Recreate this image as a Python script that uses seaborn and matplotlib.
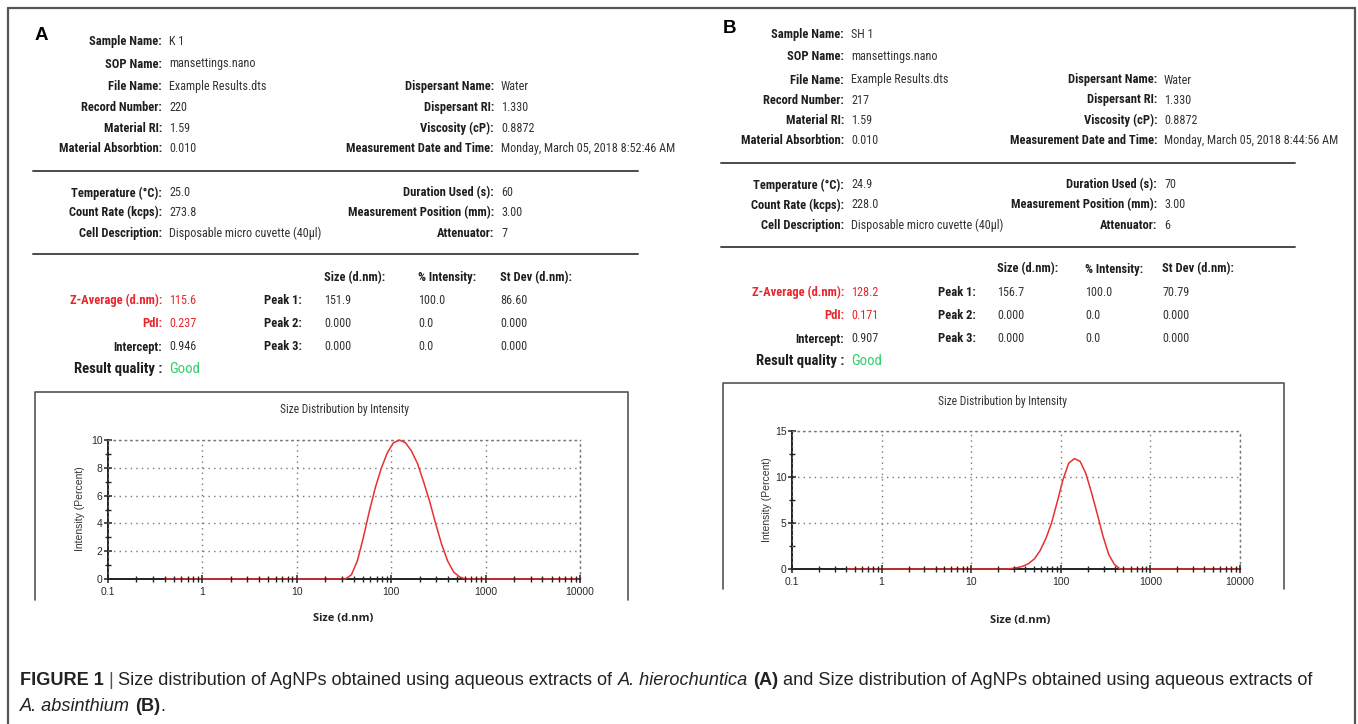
import seaborn as sns
import matplotlib.pyplot as plt
from matplotlib.ticker import FixedLocator, NullFormatter, MultipleLocator

W, H = 1358, 724

# size distribution by intensity (size in d.nm, intensity in %)
sizes_a = [0.4, 32.67, 37.84, 43.82, 50.75, 58.77, 68.06, 78.82, 91.28, 105.7, 122.4, 141.8,
           164.2, 190.1, 220.2, 255.0, 295.3, 342.0, 396.1, 458.7, 531.2, 615.1, 712.4, 10000]
intensity_a = [0, 0, 0.3, 1.3, 3.0, 4.9, 6.6, 8.0, 9.1, 9.8, 10.0, 9.8,
               9.2, 8.3, 7.0, 5.6, 4.0, 2.5, 1.3, 0.5, 0.15, 0, 0, 0]

sizes_b = [0.4, 24.36, 28.21, 32.67, 37.84, 43.82, 50.75, 58.77, 68.06, 78.82, 91.28, 105.7,
           122.4, 141.8, 164.2, 190.1, 220.2, 255.0, 295.3, 342.0, 396.1, 458.7, 10000]
intensity_b = [0, 0, 0.05, 0.15, 0.3, 0.6, 1.1, 2.0, 3.3, 5.0, 7.3, 9.7,
               11.5, 12.0, 11.7, 10.4, 8.3, 6.0, 3.6, 1.6, 0.5, 0, 0]

x_ticks = [0.1, 1, 10, 100, 1000, 10000]
x_ticklabels = ["0.1", "1", "10", "100", "1000", "10000"]

# report text, panel A
a_info = [("Sample Name:", "K 1"), ("SOP Name:", "mansettings.nano"),
          ("File Name:", "Example Results.dts"), ("Record Number:", "220"),
          ("Material RI:", "1.59"), ("Material Absorbtion:", "0.010")]
a_disp = [("Dispersant Name:", "Water"), ("Dispersant RI:", "1.330"), ("Viscosity (cP):", "0.8872"),
          ("Measurement Date and Time:", "Monday, March 05, 2018 8:52:46 AM")]
a_cond = [("Temperature (°C):", "25.0"), ("Count Rate (kcps):", "273.8"),
          ("Cell Description:", "Disposable micro cuvette (40µl)")]
a_meas = [("Duration Used (s):", "60"), ("Measurement Position (mm):", "3.00"), ("Attenuator:", "7")]
a_summary = [("Z-Average (d.nm):", "115.6"), ("PdI:", "0.237"), ("Intercept:", "0.946")]
a_peaks = [("Peak 1:", "151.9", "100.0", "86.60"), ("Peak 2:", "0.000", "0.0", "0.000"),
           ("Peak 3:", "0.000", "0.0", "0.000")]

# report text, panel B
b_info = [("Sample Name:", "SH 1"), ("SOP Name:", "mansettings.nano"),
          ("File Name:", "Example Results.dts"), ("Record Number:", "217"),
          ("Material RI:", "1.59"), ("Material Absorbtion:", "0.010")]
b_disp = [("Dispersant Name:", "Water"), ("Dispersant RI:", "1.330"), ("Viscosity (cP):", "0.8872"),
          ("Measurement Date and Time:", "Monday, March 05, 2018 8:44:56 AM")]
b_cond = [("Temperature (°C):", "24.9"), ("Count Rate (kcps):", "228.0"),
          ("Cell Description:", "Disposable micro cuvette (40µl)")]
b_meas = [("Duration Used (s):", "70"), ("Measurement Position (mm):", "3.00"), ("Attenuator:", "6")]
b_summary = [("Z-Average (d.nm):", "128.2"), ("PdI:", "0.171"), ("Intercept:", "0.907")]
b_peaks = [("Peak 1:", "156.7", "100.0", "70.79"), ("Peak 2:", "0.000", "0.0", "0.000"),
           ("Peak 3:", "0.000", "0.0", "0.000")]

peak_headers = ["Size (d.nm):", "% Intensity:", "St Dev (d.nm):"]

caption_1 = [("FIGURE 1", "bold", "normal"), (" | ", "normal", "normal"),
             ("Size distribution of AgNPs obtained using aqueous extracts of ", "normal", "normal"),
             ("A. hierochuntica", "normal", "italic"), (" ", "normal", "normal"),
             ("(A)", "bold", "normal"),
             (" and Size distribution of AgNPs obtained using aqueous extracts of", "normal", "normal")]
caption_2 = [("A. absinthium", "normal", "italic"), (" ", "normal", "normal"),
             ("(B)", "bold", "normal"), (".", "normal", "normal")]

sns.set_style("white")
plt.rcParams["font.family"] = ["Liberation Sans", "DejaVu Sans"]
NARROW = ["Roboto Condensed", "Liberation Sans Narrow", "Roboto", "DejaVu Sans"]
PLAIN = ["Liberation Sans", "DejaVu Sans"]
TS = 9.0  # report label size
VS = 8.7  # report value size

RED = "#e8262b"
GREEN = "#2fcf6a"
INK = "#1e1e1e"
VAL = "#333333"

fig = plt.figure(figsize=(W / 100, H / 100), dpi=100)

bg = fig.add_axes([0, 0, 1, 1])
bg.set_xlim(0, W)
bg.set_ylim(H, 0)
bg.axis("off")

# outer frame
bg.plot([8, 1355], [8, 8], color="#555555", lw=1.6)
bg.plot([8, 8], [8, H], color="#555555", lw=1.6)
bg.plot([1355, 1355], [8, H], color="#555555", lw=1.6)


def px_axes(x0, y0, x1, y1):
    return fig.add_axes([x0 / W, 1 - y1 / H, (x1 - x0) / W, (y1 - y0) / H])


def pair(x_edge, y, label, value, color=INK, vcolor=VAL, size=TS, vsize=VS):
    bg.text(x_edge, y, label, ha="right", va="center", fontsize=size, fontweight="bold",
            color=color, family=NARROW)
    bg.text(x_edge + 7, y, value, ha="left", va="center", fontsize=vsize, color=vcolor, family=NARROW)


def panel(letter, lx, info, disp, cond, meas, summary, peaks, lay):
    bg.text(lx, lay["top"][0] - 6, letter, fontsize=13.5, fontweight="bold", ha="left", va="center",
            color="black", family=PLAIN)
    for (lab, val), y in zip(info, lay["top"]):
        pair(lay["edge"], y, lab, val)
    for (lab, val), y in zip(disp, lay["top"][2:]):
        pair(lay["redge"], y, lab, val)
    for (lab, val), y in zip(cond, lay["cond"]):
        pair(lay["edge"], y, lab, val)
    for (lab, val), y in zip(meas, lay["cond"]):
        pair(lay["redge"], y, lab, val)
    for y in lay["seps"]:
        bg.plot(lay["sepx"], [y, y], color="#4a4a4a", lw=1.4)
    for head, x in zip(peak_headers, lay["cols"]):
        bg.text(x, lay["head"], head, ha="left", va="center", fontsize=TS, fontweight="bold",
                color=INK, family=NARROW)
    for i, ((lab, val), y) in enumerate(zip(summary, lay["summ"])):
        c = RED if i < 2 else INK
        v = RED if i < 2 else VAL
        pair(lay["edge"], y, lab, val, color=c, vcolor=v)
        row = peaks[i]
        bg.text(lay["pedge"], y, row[0], ha="right", va="center", fontsize=TS, fontweight="bold",
                color=INK, family=NARROW)
        for txt, x in zip(row[1:], lay["cols"]):
            bg.text(x, y, txt, ha="left", va="center", fontsize=VS, color=VAL, family=NARROW)
    pair(lay["edge"], lay["result"], "Result quality :", "Good", vcolor=GREEN,
         size=TS + 1.6, vsize=TS + 1.6)


lay_a = dict(top=[41.7, 64, 86.7, 107.7, 128.3, 148.3], cond=[193, 212.7, 233.3],
             seps=[171, 254], sepx=[33, 638], head=278, summ=[300.7, 323.3, 347], result=369.3,
             edge=162, redge=494, pedge=302, cols=[324, 418, 500])
lay_b = dict(top=[34.3, 56.7, 80, 100, 120.7, 140.7], cond=[185, 205, 225.7],
             seps=[163.3, 246.7], sepx=[721, 1295], head=269, summ=[292.7, 315.3, 339], result=360.7,
             edge=844, redge=1157, pedge=976, cols=[997, 1085, 1162])

panel("A", 35, a_info, a_disp, a_cond, a_meas, a_summary, a_peaks, lay_a)
panel("B", 723, b_info, b_disp, b_cond, b_meas, b_summary, b_peaks, lay_b)

# graph frames (open at the bottom)
for x0, x1, y0, y1 in [(35, 628, 392, 600), (723, 1284, 383, 589)]:
    bg.plot([x0, x0, x1, x1], [y1, y0, y0, y1], color="#555555", lw=1.2)


def dist_plot(box, sizes, inten, ymax, ystep, yminor, title_xy, xlab_xy, ylab_xy):
    ax = px_axes(*box)
    sns.lineplot(x=sizes, y=inten, ax=ax, color="#e8302f", lw=1.1, zorder=2.6)
    for ln in ax.lines:
        ln.set_clip_on(False)
    ax.set_xscale("log")
    ax.set_xlim(0.1, 10000)
    ax.set_ylim(0, ymax)
    ax.xaxis.set_major_locator(FixedLocator(x_ticks))
    ax.set_xticklabels(x_ticklabels)
    ax.xaxis.set_minor_locator(FixedLocator([m * d for d in x_ticks[:-1] for m in range(2, 10)]))
    ax.xaxis.set_minor_formatter(NullFormatter())
    ax.yaxis.set_major_locator(MultipleLocator(ystep))
    ax.yaxis.set_minor_locator(MultipleLocator(yminor))
    ax.tick_params(which="both", bottom=True, left=True, top=False, right=False)
    ax.tick_params(which="major", direction="inout", length=6, width=1.1, color="#222222",
                   labelsize=7.5, labelcolor="#2a2a2a")
    ax.tick_params(axis="x", which="major", pad=3)
    ax.tick_params(axis="y", which="major", pad=1)
    ax.tick_params(which="minor", direction="inout", length=4, width=1.0, color="#222222")
    ax.xaxis.set_zorder(3)
    ax.grid(True, which="major", linestyle=(0, (1, 3)), color="#777777", lw=1)
    ax.grid(False, which="minor")
    for side in ["top", "right"]:
        ax.spines[side].set_linestyle((0, (1, 3)))
        ax.spines[side].set_color("#777777")
        ax.spines[side].set_linewidth(1)
    for side in ["left", "bottom"]:
        ax.spines[side].set_color("#222222")
        ax.spines[side].set_linewidth(1.4)
    ax.patch.set_alpha(0)
    ax.set_xlabel("")
    ax.set_ylabel("")
    bg.text(*title_xy, "Size Distribution by Intensity", ha="center", va="center", fontsize=8.3,
            color="#333333", family=NARROW)
    bg.text(*xlab_xy, "Size (d.nm)", ha="center", va="center", fontsize=8, fontweight="bold",
            color="#222222", family=["Open Sans", "DejaVu Sans"])
    bg.text(*ylab_xy, "Intensity (Percent)", ha="center", va="center", rotation=90, fontsize=7.5,
            color="#333333", family=PLAIN)
    return ax


dist_plot((108, 440, 580, 579), sizes_a, intensity_a, 10, 2, 1, (344, 409), (343, 618), (80, 509))
dist_plot((792, 431, 1240, 569), sizes_b, intensity_b, 15, 5, 2.5, (1003, 401), (1020, 620), (767, 500))

# caption, laid out piece by piece
renderer = fig.canvas.get_renderer()
CAP_SIZE = 13.1


def advance(s, weight, style):
    # width of s including its spaces: measure s between two marks
    t1 = bg.text(0, 0, "|" + s + "|", fontsize=CAP_SIZE, fontweight=weight, fontstyle=style, family=PLAIN)
    t2 = bg.text(0, 0, "||", fontsize=CAP_SIZE, fontweight=weight, fontstyle=style, family=PLAIN)
    w = t1.get_window_extent(renderer).width - t2.get_window_extent(renderer).width
    t1.remove()
    t2.remove()
    return w


def caption_line(pieces, x, y):
    for s, weight, style in pieces:
        color = "#555555" if s.strip() == "|" else "#222222"
        bg.text(x, y, s, fontsize=CAP_SIZE, fontweight=weight, fontstyle=style,
                ha="left", va="baseline", color=color, family=PLAIN)
        x += advance(s, weight, style)


caption_line(caption_1, 20, 685)
caption_line(caption_2, 20, 711)

fig.savefig("out.png", dpi=100)
